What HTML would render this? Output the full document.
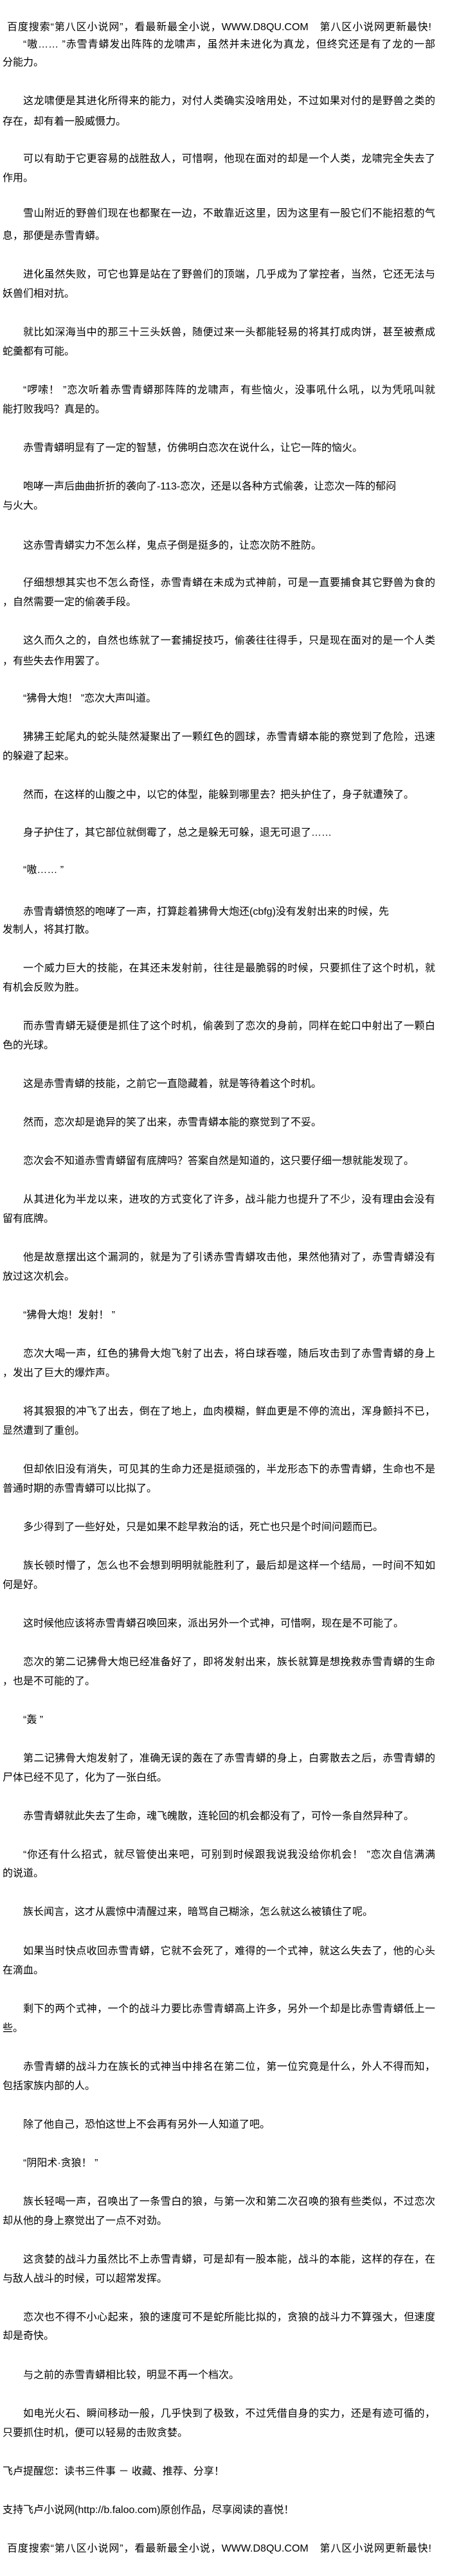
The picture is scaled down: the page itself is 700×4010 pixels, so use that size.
<!DOCTYPE html>
<html><head><meta charset="utf-8"><style>
html,body{margin:0;padding:0;background:#fff;}
body{width:700px;height:4010px;position:relative;overflow:hidden;font-family:"Liberation Sans","Noto Sans CJK SC",sans-serif;font-size:16px;color:#000;}
.l{position:absolute;left:4px;width:673px;height:30px;line-height:30px;white-space:nowrap;box-sizing:border-box;}
.i{padding-left:32px;}
.f{white-space:normal;text-align:justify;text-align-last:justify;overflow:hidden;}
.h{left:11px;width:660px;white-space:normal;text-align:justify;text-align-last:justify;}
</style></head><body>
<div class="l h" style="top:28px">百度搜索“第八区小说网”，看最新最全小说，WWW.D8QU.COM　第八区小说网更新最快!</div>
<div class="l i f" style="top:55px">“嗷…… ”赤雪青蟒发出阵阵的龙啸声，虽然并未进化为真龙，但终究还是有了龙的一部</div>
<div class="l" style="top:83px">分能力。</div>
<div class="l i f" style="top:143px">这龙啸便是其进化所得来的能力，对付人类确实没啥用处，不过如果对付的是野兽之类的</div>
<div class="l" style="top:175px">存在，却有着一股威慑力。</div>
<div class="l i f" style="top:233px">可以有助于它更容易的战胜敌人，可惜啊，他现在面对的却是一个人类，龙啸完全失去了</div>
<div class="l" style="top:263px">作用。</div>
<div class="l i f" style="top:318px">雪山附近的野兽们现在也都聚在一边，不敢靠近这里，因为这里有一股它们不能招惹的气</div>
<div class="l" style="top:353px">息，那便是赤雪青蟒。</div>
<div class="l i f" style="top:413px">进化虽然失败，可它也算是站在了野兽们的顶端，几乎成为了掌控者，当然，它还无法与</div>
<div class="l" style="top:443px">妖兽们相对抗。</div>
<div class="l i f" style="top:503px">就比如深海当中的那三十三头妖兽，随便过来一头都能轻易的将其打成肉饼，甚至被煮成</div>
<div class="l" style="top:533px">蛇羹都有可能。</div>
<div class="l i f" style="top:593px">“啰嗦！ ”恋次听着赤雪青蟒那阵阵的龙啸声，有些恼火，没事吼什么吼，以为凭吼叫就</div>
<div class="l" style="top:623px">能打败我吗？真是的。</div>
<div class="l i" style="top:683px">赤雪青蟒明显有了一定的智慧，仿佛明白恋次在说什么，让它一阵的恼火。</div>
<div class="l i" style="top:743px">咆哮一声后曲曲折折的袭向了-113-恋次，还是以各种方式偷袭，让恋次一阵的郁闷</div>
<div class="l" style="top:773px">与火大。</div>
<div class="l i" style="top:835px">这赤雪青蟒实力不怎么样，鬼点子倒是挺多的，让恋次防不胜防。</div>
<div class="l i f" style="top:893px">仔细想想其实也不怎么奇怪，赤雪青蟒在未成为式神前，可是一直要捕食其它野兽为食的</div>
<div class="l" style="top:923px">，自然需要一定的偷袭手段。</div>
<div class="l i f" style="top:983px">这久而久之的，自然也练就了一套捕捉技巧，偷袭往往得手，只是现在面对的是一个人类</div>
<div class="l" style="top:1015px">，有些失去作用罢了。</div>
<div class="l i" style="top:1073px">“狒骨大炮！ ”恋次大声叫道。</div>
<div class="l i f" style="top:1133px">狒狒王蛇尾丸的蛇头陡然凝聚出了一颗红色的圆球，赤雪青蟒本能的察觉到了危险，迅速</div>
<div class="l" style="top:1163px">的躲避了起来。</div>
<div class="l i" style="top:1223px">然而，在这样的山腹之中，以它的体型，能躲到哪里去？把头护住了，身子就遭殃了。</div>
<div class="l i" style="top:1282px">身子护住了，其它部位就倒霉了，总之是躲无可躲，退无可退了……</div>
<div class="l i" style="top:1340px">“嗷…… ”</div>
<div class="l i" style="top:1405px">赤雪青蟒愤怒的咆哮了一声，打算趁着狒骨大炮还(cbfg)没有发射出来的时候，先</div>
<div class="l" style="top:1433px">发制人，将其打散。</div>
<div class="l i f" style="top:1493px">一个威力巨大的技能，在其还未发射前，往往是最脆弱的时候，只要抓住了这个时机，就</div>
<div class="l" style="top:1523px">有机会反败为胜。</div>
<div class="l i f" style="top:1583px">而赤雪青蟒无疑便是抓住了这个时机，偷袭到了恋次的身前，同样在蛇口中射出了一颗白</div>
<div class="l" style="top:1613px">色的光球。</div>
<div class="l i" style="top:1673px">这是赤雪青蟒的技能，之前它一直隐藏着，就是等待着这个时机。</div>
<div class="l i" style="top:1733px">然而，恋次却是诡异的笑了出来，赤雪青蟒本能的察觉到了不妥。</div>
<div class="l i" style="top:1793px">恋次会不知道赤雪青蟒留有底牌吗？答案自然是知道的，这只要仔细一想就能发现了。</div>
<div class="l i f" style="top:1853px">从其进化为半龙以来，进攻的方式变化了许多，战斗能力也提升了不少，没有理由会没有</div>
<div class="l" style="top:1883px">留有底牌。</div>
<div class="l i f" style="top:1943px">他是故意摆出这个漏洞的，就是为了引诱赤雪青蟒攻击他，果然他猜对了，赤雪青蟒没有</div>
<div class="l" style="top:1973px">放过这次机会。</div>
<div class="l i" style="top:2033px">“狒骨大炮！发射！ ”</div>
<div class="l i f" style="top:2093px">恋次大喝一声，红色的狒骨大炮飞射了出去，将白球吞噬，随后攻击到了赤雪青蟒的身上</div>
<div class="l" style="top:2123px">，发出了巨大的爆炸声。</div>
<div class="l i f" style="top:2183px">将其狠狠的冲飞了出去，倒在了地上，血肉模糊，鲜血更是不停的流出，浑身颤抖不已，</div>
<div class="l" style="top:2213px">显然遭到了重创。</div>
<div class="l i f" style="top:2273px">但却依旧没有消失，可见其的生命力还是挺顽强的，半龙形态下的赤雪青蟒，生命也不是</div>
<div class="l" style="top:2303px">普通时期的赤雪青蟒可以比拟了。</div>
<div class="l i" style="top:2363px">多少得到了一些好处，只是如果不趁早救治的话，死亡也只是个时间问题而已。</div>
<div class="l i f" style="top:2423px">族长顿时懵了，怎么也不会想到明明就能胜利了，最后却是这样一个结局，一时间不知如</div>
<div class="l" style="top:2453px">何是好。</div>
<div class="l i" style="top:2513px">这时候他应该将赤雪青蟒召唤回来，派出另外一个式神，可惜啊，现在是不可能了。</div>
<div class="l i f" style="top:2573px">恋次的第二记狒骨大炮已经准备好了，即将发射出来，族长就算是想挽救赤雪青蟒的生命</div>
<div class="l" style="top:2603px">，也是不可能的了。</div>
<div class="l i" style="top:2663px">“轰 ”</div>
<div class="l i f" style="top:2723px">第二记狒骨大炮发射了，准确无误的轰在了赤雪青蟒的身上，白雾散去之后，赤雪青蟒的</div>
<div class="l" style="top:2753px">尸体已经不见了，化为了一张白纸。</div>
<div class="l i" style="top:2813px">赤雪青蟒就此失去了生命，魂飞魄散，连轮回的机会都没有了，可怜一条自然异种了。</div>
<div class="l i f" style="top:2873px">“你还有什么招式，就尽管使出来吧，可别到时候跟我说我没给你机会！ ”恋次自信满满</div>
<div class="l" style="top:2902px">的说道。</div>
<div class="l i" style="top:2962px">族长闻言，这才从震惊中清醒过来，暗骂自己糊涂，怎么就这么被镇住了呢。</div>
<div class="l i f" style="top:3023px">如果当时快点收回赤雪青蟒，它就不会死了，难得的一个式神，就这么失去了，他的心头</div>
<div class="l" style="top:3053px">在滴血。</div>
<div class="l i f" style="top:3113px">剩下的两个式神，一个的战斗力要比赤雪青蟒高上许多，另外一个却是比赤雪青蟒低上一</div>
<div class="l" style="top:3143px">些。</div>
<div class="l i f" style="top:3203px">赤雪青蟒的战斗力在族长的式神当中排名在第二位，第一位究竟是什么，外人不得而知，</div>
<div class="l" style="top:3233px">包括家族内部的人。</div>
<div class="l i" style="top:3293px">除了他自己，恐怕这世上不会再有另外一人知道了吧。</div>
<div class="l i" style="top:3353px">“阴阳术·贪狼！ ”</div>
<div class="l i f" style="top:3413px">族长轻喝一声，召唤出了一条雪白的狼，与第一次和第二次召唤的狼有些类似，不过恋次</div>
<div class="l" style="top:3443px">却从他的身上察觉出了一点不对劲。</div>
<div class="l i f" style="top:3503px">这贪婪的战斗力虽然比不上赤雪青蟒，可是却有一股本能，战斗的本能，这样的存在，在</div>
<div class="l" style="top:3533px">与敌人战斗的时候，可以超常发挥。</div>
<div class="l i f" style="top:3593px">恋次也不得不小心起来，狼的速度可不是蛇所能比拟的，贪狼的战斗力不算强大，但速度</div>
<div class="l" style="top:3622px">却是奇快。</div>
<div class="l i" style="top:3683px">与之前的赤雪青蟒相比较，明显不再一个档次。</div>
<div class="l i f" style="top:3743px">如电光火石、瞬间移动一般，几乎快到了极致，不过凭借自身的实力，还是有迹可循的，</div>
<div class="l" style="top:3773px">只要抓住时机，便可以轻易的击败贪婪。</div>
<div class="l" style="top:3833px">飞卢提醒您：读书三件事 － 收藏、推荐、分享！</div>
<div class="l" style="top:3893px">支持飞卢小说网(http://b.faloo.com)原创作品，尽享阅读的喜悦！</div>
<div class="l h" style="top:3953px">百度搜索“第八区小说网”，看最新最全小说，WWW.D8QU.COM　第八区小说网更新最快!</div>
</body></html>
